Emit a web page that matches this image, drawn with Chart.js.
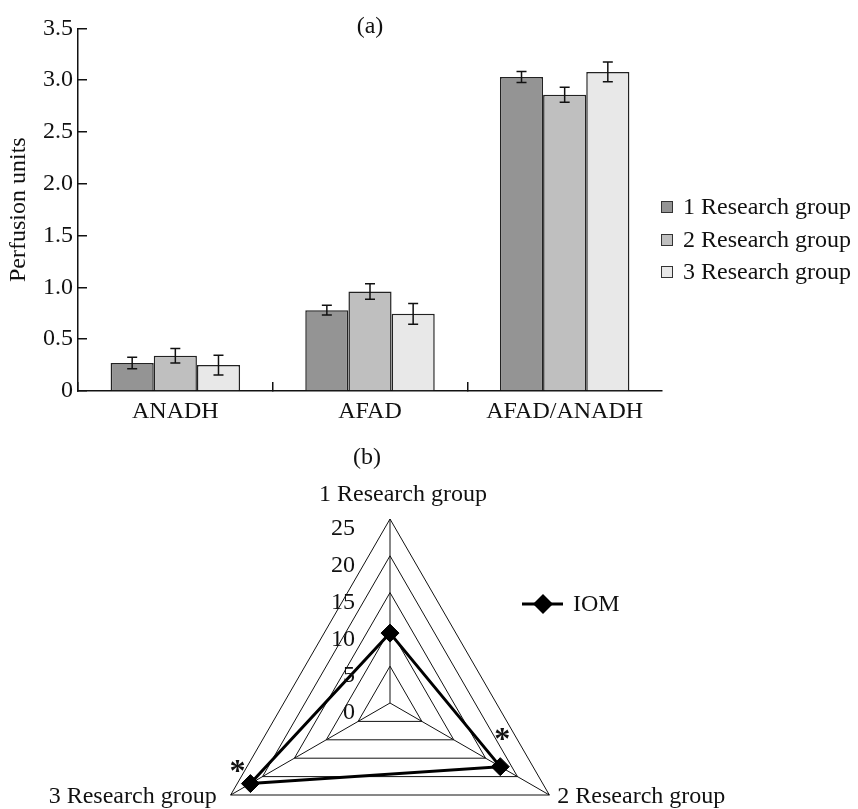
<!DOCTYPE html>
<html>
<head>
<meta charset="utf-8">
<script src="https://cdn.jsdelivr.net/npm/chart.js@4.4.0/dist/chart.umd.min.js"></script>
<style>
html, body { margin: 0; padding: 0; width: 858px; height: 809px; overflow: hidden; background: #fff; }
#barCanvas { position: absolute; left: 0; top: 0; }
#radarCanvas { position: absolute; left: 0; top: 440px; }
</style>
</head>
<body>
<canvas id="barCanvas" width="858" height="440"></canvas>
<canvas id="radarCanvas" width="858" height="470"></canvas>
<script>
// (a) bar chart data
const categories = ['ANADH', 'AFAD', 'AFAD/ANADH'];
const groupNames = ['1 Research group', '2 Research group', '3 Research group'];
const group1Values = [0.27, 0.78, 3.03];
const group2Values = [0.34, 0.96, 2.86];
const group3Values = [0.25, 0.745, 3.08];
const group1Errors = [0.055, 0.047, 0.053];
const group2Errors = [0.07, 0.075, 0.072];
const group3Errors = [0.095, 0.1, 0.096];
const yTicks = [0, 0.5, 1.0, 1.5, 2.0, 2.5, 3.0, 3.5];

// (b) radar data
const radarAxes = ['1 Research group', '2 Research group', '3 Research group'];
const iomValues = [9.5, 17.3, 21.9];
const radarTicks = [0, 5, 10, 15, 20, 25];
const significant = [false, true, true];

const serif = '"Liberation Serif", "Times New Roman", serif';
Chart.defaults.font.family = serif;
Chart.defaults.font.size = 24;
Chart.defaults.color = '#111';

const barColors = ['#949494', '#bfbfbf', '#e8e8e8'];

const errorBars = {
  id: 'errorBars',
  afterDatasetsDraw(chart) {
    const ctx = chart.ctx, y = chart.scales.y;
    ctx.save();
    ctx.strokeStyle = '#111';
    ctx.lineWidth = 1.5;
    chart.data.datasets.forEach((ds, i) => {
      chart.getDatasetMeta(i).data.forEach((bar, j) => {
        const v = ds.data[j], e = ds.errors[j];
        const top = y.getPixelForValue(v + e), bot = y.getPixelForValue(v - e);
        ctx.beginPath();
        ctx.moveTo(bar.x, top); ctx.lineTo(bar.x, bot);
        ctx.moveTo(bar.x - 5, top); ctx.lineTo(bar.x + 5, top);
        ctx.moveTo(bar.x - 5, bot); ctx.lineTo(bar.x + 5, bot);
        ctx.stroke();
      });
    });
    ctx.restore();
  }
};

// legend on the right, drawn by hand so the plot area keeps its width
const barLegend = {
  id: 'barLegend',
  afterDraw(chart) {
    const ctx = chart.ctx;
    const rows = [207, 240, 272];
    ctx.save();
    ctx.font = '24px ' + serif;
    ctx.textBaseline = 'middle';
    chart.data.datasets.forEach((ds, i) => {
      ctx.fillStyle = ds.backgroundColor;
      ctx.fillRect(661, rows[i] - 6, 12, 12);
      ctx.strokeStyle = '#333';
      ctx.lineWidth = 1;
      ctx.strokeRect(661.5, rows[i] - 5.5, 11, 11);
      ctx.fillStyle = '#111';
      ctx.fillText(ds.label, 683, rows[i] + 1);
    });
    ctx.restore();
  }
};

new Chart(document.getElementById('barCanvas'), {
  type: 'bar',
  data: {
    labels: categories,
    datasets: [
      { label: groupNames[0], data: group1Values, errors: group1Errors, backgroundColor: barColors[0] },
      { label: groupNames[1], data: group2Values, errors: group2Errors, backgroundColor: barColors[1] },
      { label: groupNames[2], data: group3Values, errors: group3Errors, backgroundColor: barColors[2] }
    ]
  },
  options: {
    responsive: false,
    animation: false,
    layout: { padding: { left: 0, right: 196, top: 0, bottom: 0 } },
    datasets: {
      bar: {
        borderColor: '#222',
        borderWidth: 1.5,
        categoryPercentage: 0.665,
        barPercentage: 1.0
      }
    },
    plugins: {
      legend: { display: false },
      tooltip: { enabled: false },
      title: {
        display: true,
        text: '(a)',
        fullSize: false,
        color: '#111',
        font: { size: 24, weight: 'normal' },
        padding: { top: 10, bottom: -13 }
      }
    },
    scales: {
      x: {
        afterFit: s => { s.height = 49; },
        grid: {
          display: true,
          drawOnChartArea: false,
          drawTicks: true,
          tickLength: -9,
          lineWidth: 1.5,
          color: c => c.type === 'tick' ? '#111' : 'rgba(0,0,0,0)'
        },
        border: { color: '#111', width: 1.5 },
        ticks: { padding: 15, color: '#111' }
      },
      y: {
        min: 0,
        max: 3.5,
        afterFit: s => { s.width = 78; },
        afterBuildTicks: s => { s.ticks = yTicks.map(v => ({ value: v })); },
        grid: {
          drawOnChartArea: false,
          drawTicks: true,
          tickLength: -9,
          lineWidth: 1.5,
          color: '#111'
        },
        border: { color: '#111', width: 1.5 },
        ticks: {
          padding: 14,
          color: '#111',
          callback: v => v === 0 ? '0' : v.toFixed(1)
        },
        title: {
          display: true,
          text: 'Perfusion units',
          color: '#111',
          font: { size: 24 },
          padding: { top: 4, bottom: 0 }
        }
      }
    }
  },
  plugins: [errorBars, barLegend]
});

// radar extras: tick labels, axis names, legend, title and asterisks
const radarText = {
  id: 'radarText',
  afterDraw(chart) {
    const ctx = chart.ctx, r = chart.scales.r;
    const cx = r.xCenter, cy = r.yCenter;
    ctx.save();
    ctx.fillStyle = '#111';
    ctx.font = '24px ' + serif;
    ctx.textBaseline = 'middle';

    ctx.textAlign = 'right';
    radarTicks.forEach(v => {
      ctx.fillText(String(v), cx - 35, cy - r.getDistanceFromCenterForValue(v) + 10);
    });

    const outer = r.getDistanceFromCenterForValue(r.max);
    const p0 = r.getPointPosition(0, outer);
    const p1 = r.getPointPosition(1, outer);
    const p2 = r.getPointPosition(2, outer);
    ctx.textAlign = 'center';
    ctx.fillText(radarAxes[0], p0.x + 13, p0.y - 24);
    ctx.textAlign = 'left';
    ctx.fillText(radarAxes[1], p1.x + 8, p1.y + 2);
    ctx.textAlign = 'right';
    ctx.fillText(radarAxes[2], p2.x - 14, p2.y + 2);

    ctx.textAlign = 'center';
    ctx.fillText('(b)', 367, 18);

    // legend
    const ly = 164;
    ctx.strokeStyle = '#000';
    ctx.lineWidth = 3;
    ctx.beginPath();
    ctx.moveTo(522, ly); ctx.lineTo(563, ly);
    ctx.stroke();
    ctx.fillStyle = '#000';
    ctx.beginPath();
    ctx.moveTo(543, ly - 10); ctx.lineTo(553, ly); ctx.lineTo(543, ly + 10); ctx.lineTo(533, ly);
    ctx.closePath();
    ctx.fill();
    ctx.fillStyle = '#111';
    ctx.textAlign = 'left';
    ctx.fillText(chart.data.datasets[0].label, 573, ly + 1);

    // significance marks
    const pts = chart.getDatasetMeta(0).data;
    const offs = [[0, 0], [2, -33], [-13, -18]];
    ctx.font = 'bold 32px ' + serif;
    ctx.textAlign = 'center';
    ctx.textBaseline = 'alphabetic';
    significant.forEach((s, i) => {
      if (!s) return;
      ctx.fillText('*', pts[i].x + offs[i][0], pts[i].y + offs[i][1] + 15);
    });
    ctx.restore();
  }
};

new Chart(document.getElementById('radarCanvas'), {
  type: 'radar',
  data: {
    labels: radarAxes,
    datasets: [{
      label: 'IOM',
      data: iomValues,
      borderColor: '#000',
      borderWidth: 3,
      backgroundColor: 'rgba(0,0,0,0)',
      fill: false,
      pointStyle: 'rectRot',
      pointRadius: 9,
      pointBorderWidth: 1,
      pointBackgroundColor: '#000',
      pointBorderColor: '#000'
    }]
  },
  options: {
    responsive: false,
    animation: false,
    layout: { padding: { left: 205, right: 283, top: 79, bottom: 22 } },
    plugins: {
      legend: { display: false },
      tooltip: { enabled: false }
    },
    scales: {
      r: {
        min: 0,
        max: 25,
        ticks: { stepSize: 5, display: false },
        pointLabels: { display: false },
        grid: { color: '#111', lineWidth: 1 },
        angleLines: { color: '#111', lineWidth: 1 }
      }
    }
  },
  plugins: [radarText]
});
</script>
</body>
</html>
